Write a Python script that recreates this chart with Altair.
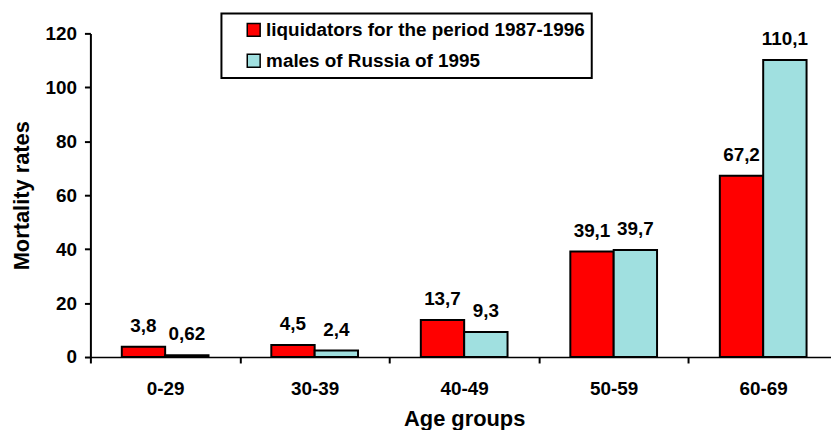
import altair as alt
import pandas as pd

ages = ["0-29", "30-39", "40-49", "50-59", "60-69"]
liquidators = [3.8, 4.5, 13.7, 39.1, 67.2]
russia = [0.62, 2.4, 9.3, 39.7, 110.1]
series_names = ["liquidators for the period 1987-1996", "males of Russia of 1995"]
colors = ["#FF0000", "#A0E0E0"]
y_ticks = [0, 20, 40, 60, 80, 100, 120]

rows = []
for a, v1, v2 in zip(ages, liquidators, russia):
    rows.append({"age": a, "series": series_names[0], "value": v1})
    rows.append({"age": a, "series": series_names[1], "value": v2})
df = pd.DataFrame(rows)

FONT = "Liberation Sans"

x_enc = alt.X(
    "age:N",
    sort=ages,
    scale=alt.Scale(paddingInner=0, paddingOuter=0, range=[0, 753]),
    axis=alt.Axis(
        title="Age groups",
        labelAngle=0,
        tickBand="extent",
        domainColor="black",
        domainWidth=1.5,
        tickColor="black",
        tickWidth=2,
        tickSize=6,
        labelPadding=17,
        labelFontSize=19,
        labelFontWeight="bold",
        labelColor="black",
        titleFontSize=22,
        titleFontWeight="bold",
        titleColor="black",
        titlePadding=10,
    ),
)
xoff_enc = alt.XOffset(
    "series:N", sort=series_names, scale=alt.Scale(paddingInner=0, paddingOuter=0.724)
)
y_enc = alt.Y(
    "value:Q",
    scale=alt.Scale(domain=[0, 120]),
    axis=alt.Axis(
        title="Mortality rates",
        values=y_ticks,
        grid=False,
        domainColor="black",
        domainWidth=2,
        tickColor="black",
        tickWidth=2,
        tickSize=6,
        labelPadding=8,
        labelFontSize=19,
        labelFontWeight="bold",
        labelColor="black",
        titleFontSize=22,
        titleFontWeight="bold",
        titleColor="black",
        titlePadding=12,
    ),
)

bars = alt.Chart(df).mark_bar(stroke="black", strokeWidth=2).encode(
    x=x_enc,
    xOffset=xoff_enc,
    y=y_enc,
    color=alt.Color(
        "series:N",
        sort=series_names,
        scale=alt.Scale(domain=series_names, range=colors),
        legend=alt.Legend(
            title=None,
            orient="none",
            legendX=132,
            legendY=-20,
            padding=7,
            symbolOffset=16,
            rowPadding=11,
            symbolType="square",
            symbolSize=169,
            symbolStrokeColor="black",
            symbolStrokeWidth=1.5,
            labelFontSize=19,
            labelFontWeight="bold",
            labelColor="black",
            labelOffset=3,
            labelLimit=500,
            strokeColor="black",
            labelExpr="datum.label + '\u2003\u2003'",
        ),
    ),
)

labels = alt.Chart(df).transform_calculate(
    txt="replace(toString(datum.value), '.', ',')"
).mark_text(
    font=FONT, fontSize=19, fontWeight="bold", color="black", baseline="alphabetic", dy=-15
).encode(
    x=alt.X("age:N", sort=ages),
    xOffset=alt.XOffset("series:N", sort=series_names),
    y=alt.Y("value:Q"),
    text="txt:N",
)

chart = (
    alt.layer(bars, labels)
    .properties(
        width=746,
        height=326,
        autosize=alt.AutoSizeParams(type="none"),
        padding={"left": 83, "top": 24, "right": 0, "bottom": 80},
    )
    .configure(font=FONT)
    .configure_view(stroke=None)
    .configure_legend(strokeWidth=2)
)

chart.save("out.html", embed_options={"renderer": "svg", "actions": False})
